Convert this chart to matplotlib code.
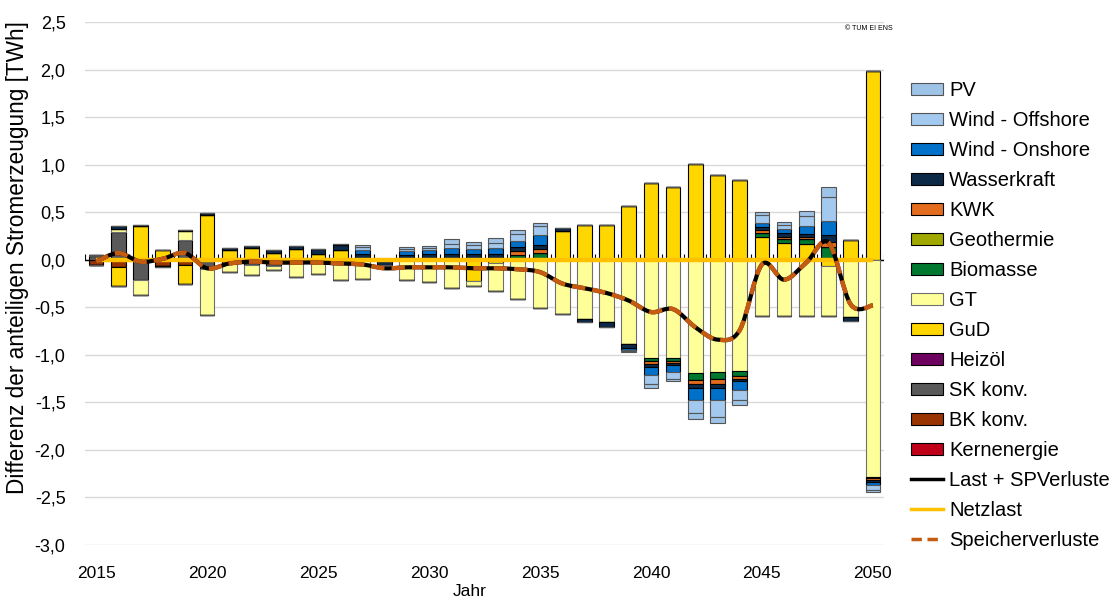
import numpy as np
import matplotlib
matplotlib.use("Agg")
import matplotlib.pyplot as plt
from matplotlib.path import Path
from matplotlib.patches import PathPatch, Patch
from matplotlib.lines import Line2D
from matplotlib.ticker import FuncFormatter

plt.rcParams['font.family'] = ['Liberation Sans', 'DejaVu Sans']

# --- Daten (TWh), Jahre 2015..2050 ---
jahre = np.arange(2015, 2051)

pv = [0, 0, 0, 0, 0, 0, 0, 0, 0, 0, 0, 0, 0.02, 0, 0.02, 0.02, 0.05, 0.04, 0.05, 0.04,
      0.04, 0, 0, 0, -0.01, -0.04, -0.03, -0.07, -0.07, -0.05, 0.03, 0.03, 0.05, 0.11, 0, -0.02]
wind_off = [0, 0, 0, 0, 0, 0, 0, 0, 0, 0, 0, 0, 0.03, 0, 0.02, 0.02, 0.05, 0.04, 0.06, 0.07,
            0.09, 0, 0, 0, -0.01, -0.10, -0.07, -0.14, -0.17, -0.11, 0.08, 0.05, 0.11, 0.25, 0, -0.05]
wind_on = [0, 0, 0, 0, 0, 0, 0, 0, 0, 0, 0, 0.02, 0.04, 0, 0.04, 0.04, 0.06, 0.05, 0.06, 0.07,
           0.10, 0, 0, 0, -0.02, -0.08, -0.07, -0.12, -0.13, -0.09, 0.05, 0.04, 0.08, 0.15, 0, -0.03]
wasser = [0, 0.03, 0.01, -0.01, 0.01, 0.02, 0.02, 0.02, 0.03, 0.03, 0.05, 0.05, 0.04, -0.06, 0.04, 0.04, 0.04, 0.04, 0.04, 0.04,
          0.05, 0.03, -0.04, -0.05, -0.04, -0.03, -0.02, -0.04, -0.04, -0.03, 0.03, 0.04, 0.03, 0.07, -0.04, -0.02]
kwk = [0, 0, 0, 0, 0, 0, 0, 0, 0, 0, 0, 0, 0.02, 0, 0.01, 0.02, 0.02, 0.02, 0.02, 0.04,
       0.04, 0, 0, 0, 0, -0.03, -0.03, -0.05, -0.06, -0.03, 0.03, 0.02, 0.02, 0.06, 0, -0.02]
geothermie = [0] * 36
biomasse = [0, 0, 0, 0, 0, 0, 0, 0, 0, 0, 0, 0, 0, 0, 0, 0, 0, 0, 0, 0.03,
            0.07, 0, 0, 0, 0, -0.04, -0.03, -0.07, -0.07, -0.05, 0.04, 0.04, 0.05, 0.13, 0, -0.02]
gt = [0.01, 0.03, -0.16, 0, 0.09, -0.48, -0.08, -0.10, -0.04, -0.18, -0.15, -0.21, -0.20, 0, -0.21, -0.23, -0.30, -0.06, -0.30, -0.41,
      -0.51, -0.57, -0.62, -0.66, -0.89, -1.03, -1.03, -1.19, -1.18, -1.17, -0.59, -0.59, -0.59, -0.52, -0.60, -2.28]
gud = [0, -0.20, 0.35, 0.10, -0.19, 0.47, 0.10, 0.12, 0.07, 0.11, 0.06, 0.10, 0, 0, 0, 0, 0, -0.22, -0.03, 0.02,
       0, 0.30, 0.37, 0.37, 0.57, 0.81, 0.77, 1.01, 0.89, 0.84, 0.24, 0.18, 0.17, -0.07, 0.21, 1.98]
heizoel = [0] * 36
sk = [0.04, 0.29, -0.21, 0, 0.21, -0.10, 0, -0.06, -0.07, 0, 0, 0, 0, 0, 0, 0, 0, 0, 0, 0,
      0, 0, 0, 0, 0, 0, 0, 0, 0, 0, 0, 0, 0, 0, 0, 0]
bk = [-0.06, -0.08, 0, -0.07, -0.06, 0, -0.05, 0, 0, 0, 0, 0, 0, 0, 0, 0, 0, 0, 0, 0,
      0, 0, 0, 0, 0, 0, 0, 0, 0, 0, 0, 0, 0, 0, 0, 0]
kern = [0] * 36

last_sp = [-0.02, 0.07, -0.02, 0.01, 0.07, -0.09, -0.04, -0.02, -0.03, -0.03, -0.03, -0.04, -0.05, -0.09, -0.08, -0.08,
           -0.08, -0.09, -0.09, -0.10, -0.13, -0.25, -0.30, -0.35, -0.43, -0.55, -0.52, -0.71, -0.84, -0.74, -0.05, -0.21,
           -0.03, 0.18, -0.47, -0.48]
netzlast = [0] * 36
speicherverluste = list(last_sp)

# Reihenfolge der Stapelung (von der Nulllinie nach aussen)
serien = [
    ("Kernenergie", kern, "#c00018", "#000000"),
    ("BK konv.", bk, "#993300", "#000000"),
    ("SK konv.", sk, "#595959", "#000000"),
    ("Heizöl", heizoel, "#6e0060", "#000000"),
    ("GuD", gud, "#ffd700", "#000000"),
    ("GT", gt, "#ffff99", "#6f6f6f"),
    ("Biomasse", biomasse, "#00782f", "#000000"),
    ("Geothermie", geothermie, "#a0a800", "#000000"),
    ("KWK", kwk, "#e36c1e", "#000000"),
    ("Wasserkraft", wasser, "#0c2a48", "#000000"),
    ("Wind - Onshore", wind_on, "#0070c8", "#000000"),
    ("Wind - Offshore", wind_off, "#a3c9ee", "#555555"),
    ("PV", pv, "#9dc3e6", "#555555"),
]


def smooth_path(x, y):
    """Geglaettete Linie wie in Excel (Bezier durch die Punkte)"""
    n = len(x)
    verts = [(x[0], y[0])]
    codes = [Path.MOVETO]
    for i in range(n - 1):
        x0, y0 = x[max(i - 1, 0)], y[max(i - 1, 0)]
        x1, y1 = x[i], y[i]
        x2, y2 = x[i + 1], y[i + 1]
        x3, y3 = x[min(i + 2, n - 1)], y[min(i + 2, n - 1)]
        verts += [(x1 + (x2 - x0) / 6, y1 + (y2 - y0) / 6),
                  (x2 - (x3 - x1) / 6, y2 - (y3 - y1) / 6),
                  (x2, y2)]
        codes += [Path.CURVE4] * 3
    return Path(verts, codes)


fig = plt.figure(figsize=(11.12, 6.05), dpi=100)
ax = fig.add_axes([85 / 1112, 1 - 545 / 605, (884 - 85) / 1112, (545 - 22) / 605])

# Gitter
ax.set_ylim(-3.0, 2.5)
ax.set_xlim(2014.5, 2050.5)
ax.set_yticks(np.arange(-3.0, 2.51, 0.5))
ax.yaxis.grid(True, color='#d9d9d9', lw=1)
ax.set_axisbelow(True)
for s in ax.spines.values():
    s.set_visible(False)

# Gestapelte Balken (positiv / negativ getrennt)
pos = np.zeros(len(jahre))
neg = np.zeros(len(jahre))
for name, werte, farbe, rand in serien:
    v = np.array(werte, dtype=float)
    vp = np.where(v > 0, v, 0)
    vn = np.where(v < 0, v, 0)
    ax.bar(jahre, vp, bottom=pos, width=0.66, color=farbe, edgecolor=rand, lw=0.8, zorder=2)
    ax.bar(jahre, vn, bottom=neg, width=0.66, color=farbe, edgecolor=rand, lw=0.8, zorder=2)
    pos += vp
    neg += vn

# Kategorieachse bei 0 mit Teilstrichen
ax.axhline(0, color='black', lw=1, zorder=1.5)
grenzen = np.append(jahre - 0.5, jahre[-1] + 0.5)
ax.vlines(grenzen, 0, 0.055, color='black', lw=0.8, zorder=1.5)

# Linien
ax.plot(jahre, netzlast, color='#ffc000', lw=3.2, zorder=3, solid_capstyle='butt')
ax.add_patch(PathPatch(smooth_path(jahre, last_sp), fill=False, edgecolor='black', lw=3, zorder=4))
ax.add_patch(PathPatch(smooth_path(jahre, speicherverluste), fill=False, edgecolor='#c55a11', lw=3.2,
                       linestyle=(0, (3, 1.6)), zorder=5))

# Achsenbeschriftung
ax.set_xticks(np.arange(2015, 2051, 5))
ax.tick_params(axis='both', length=0, labelsize=12.5)
ax.tick_params(axis='x', pad=15)
ax.tick_params(axis='y', pad=14, labelsize=13)
ax.yaxis.set_major_formatter(FuncFormatter(lambda v, p: f"{v:.1f}".replace('.', ',')))

fig.text(18 / 1112, 1 - 258 / 605, "Differenz der anteiligen Stromerzeugung [TWh]", rotation=90,
         ha='center', va='center', fontsize=16.3)
fig.text(470 / 1112, 1 - 592 / 605, "Jahr", ha='center', va='center', fontsize=12.5)
fig.text(893 / 1112, 1 - 28 / 605, "© TUM EI ENS", ha='right', va='center', fontsize=5)

# Legende
handles = [Patch(facecolor=f, edgecolor=r, lw=0.8, label=n) for n, _, f, r in serien[::-1]]
handles += [Line2D([], [], color='black', lw=2.5, label='Last + SPVerluste'),
            Line2D([], [], color='#ffc000', lw=2.5, label='Netzlast'),
            Line2D([], [], color='#c55a11', lw=2.5, ls=(0, (3, 1.6)), label='Speicherverluste')]
fig.legend(handles=handles, loc='upper left', bbox_to_anchor=(911 / 1112, 1 - 81 / 605),
           frameon=False, fontsize=14.5, handlelength=1.6, handleheight=0.55, handletextpad=0.3,
           labelspacing=0.545, borderpad=0, borderaxespad=0)

fig.savefig("out.png", dpi=100)
